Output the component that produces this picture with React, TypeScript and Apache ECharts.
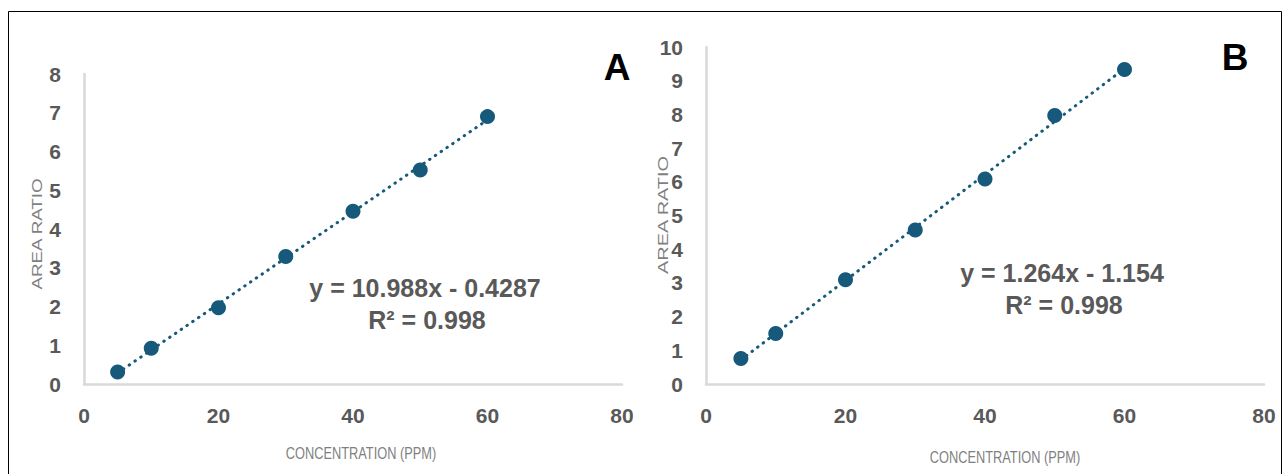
import React, { useEffect, useRef } from "react";
import * as echarts from "echarts";

const concentration = [5, 10, 20, 30, 40, 50, 60];
const areaRatioA = [0.31, 0.92, 1.97, 3.29, 4.46, 5.52, 6.9];
const areaRatioB = [0.76, 1.5, 3.09, 4.57, 6.08, 7.97, 9.33];
const xTicks = { min: 0, max: 80, interval: 20 };
const yTicksA = { min: 0, max: 8, interval: 1 };
const yTicksB = { min: 0, max: 10, interval: 1 };
const equationA = ["y = 10.988x - 0.4287", "R² = 0.998"];
const equationB = ["y = 1.264x - 1.154", "R² = 0.998"];
const panelLabels = ["A", "B"];
const xName = "CONCENTRATION (PPM)";
const yName = "AREA RATIO";

const MARK = "#17597a";
const AXIS_TXT = "#595959";
const FONT = "'Liberation Sans', Arial, sans-serif";

function fitLine(xs: number[], ys: number[]) {
  const n = xs.length;
  const mx = xs.reduce((a, b) => a + b, 0) / n;
  const my = ys.reduce((a, b) => a + b, 0) / n;
  let sxy = 0, sxx = 0;
  for (let i = 0; i < n; i++) {
    sxy += (xs[i] - mx) * (ys[i] - my);
    sxx += (xs[i] - mx) * (xs[i] - mx);
  }
  const slope = sxy / sxx;
  const icpt = my - slope * mx;
  const x0 = Math.min(...xs), x1 = Math.max(...xs);
  return [[x0, icpt + slope * x0], [x1, icpt + slope * x1]];
}

export default function App() {
  const ref = useRef<HTMLDivElement>(null);
  useEffect(() => {
    if (!ref.current) return;
    const chart = echarts.init(ref.current, null, { renderer: "svg" });
    const axisX = (gi: number) => ({
      type: "value",
      gridIndex: gi,
      ...xTicks,
      axisLine: { show: true, lineStyle: { color: "#d9d9d9", width: 2.5 } },
      axisTick: { show: false },
      splitLine: { show: false },
      axisLabel: { color: AXIS_TXT, fontSize: 21, fontWeight: "bold", fontFamily: FONT, margin: 21 },
    });
    const axisY = (gi: number, t: any) => ({
      type: "value",
      gridIndex: gi,
      ...t,
      axisLine: { show: true, lineStyle: { color: "#d9d9d9", width: 2.5 } },
      axisTick: { show: false },
      splitLine: { show: false },
      axisLabel: { color: AXIS_TXT, fontSize: 21, fontWeight: "bold", fontFamily: FONT, margin: 23 },
    });
    const scatter = (gi: number, ys: number[]) => ({
      type: "scatter",
      xAxisIndex: gi,
      yAxisIndex: gi,
      symbol: "circle",
      symbolSize: 15,
      itemStyle: { color: MARK, opacity: 1 },
      data: concentration.map((x, i) => [x, ys[i]]),
      z: 5,
    });
    const trend = (gi: number, ys: number[]) => ({
      type: "line",
      xAxisIndex: gi,
      yAxisIndex: gi,
      showSymbol: false,
      symbol: "none",
      lineStyle: { color: MARK, width: 3, type: [0.5, 6.5], cap: "round" },
      data: fitLine(concentration, ys),
      z: 2,
    });
    const eqText = (lines: string[], cx: number, cy1: number, cy2: number) => [
      {
        type: "text", x: cx, y: cy1,
        style: { text: lines[0], fill: AXIS_TXT, font: `bold 25px ${FONT}`, align: "center", verticalAlign: "middle" },
      },
      {
        type: "text", x: cx + 2, y: cy2,
        style: { text: lines[1], fill: AXIS_TXT, font: `bold 25px ${FONT}`, align: "center", verticalAlign: "middle" },
      },
    ];
    const xNameText = (cx: number, cy: number) => ({
      type: "text", x: cx, y: cy, scaleX: 0.8,
      style: { text: xName, fill: "#7f7f7f", font: `16px ${FONT}`, align: "center", verticalAlign: "middle" },
    });
    const yNameText = (cx: number, cy: number, sx: number) => ({
      type: "text", x: cx, y: cy, rotation: Math.PI / 2, scaleX: sx,
      style: { text: yName, fill: "#7f7f7f", font: `15px ${FONT}`, align: "center", verticalAlign: "middle" },
    });
    const option: any = {
      animation: false,
      backgroundColor: "#ffffff",
      grid: [
        { left: 84, top: 74, width: 538, height: 310, outerBoundsMode: "none" },
        { left: 706, top: 47, width: 558, height: 337, outerBoundsMode: "none" },
      ],
      xAxis: [axisX(0), axisX(1)],
      yAxis: [axisY(0, yTicksA), axisY(1, yTicksB)],
      series: [trend(0, areaRatioA), scatter(0, areaRatioA), trend(1, areaRatioB), scatter(1, areaRatioB)],
      graphic: [
        {
          type: "rect", shape: { x: 8.5, y: 11.5, width: 1273, height: 480 },
          style: { fill: "none", stroke: "#000", lineWidth: 1 }, silent: true,
        },
        ...eqText(equationA, 425, 288, 320),
        ...eqText(equationB, 1062, 273, 305),
        {
          type: "text", x: 617, y: 67,
          style: { text: panelLabels[0], fill: "#000", font: `bold 37px ${FONT}`, align: "center", verticalAlign: "middle" },
        },
        {
          type: "text", x: 1235, y: 57,
          style: { text: panelLabels[1], fill: "#000", font: `bold 37px ${FONT}`, align: "center", verticalAlign: "middle" },
        },
        xNameText(361, 453),
        xNameText(1005, 457),
        yNameText(37, 234, 1.25),
        yNameText(663, 215, 1.33),
      ],
    };
    chart.setOption(option);
    return () => chart.dispose();
  }, []);
  return (
    <div
      ref={ref}
      style={{ position: "absolute", left: 0, top: 0, width: 1285, height: 474 }}
    />
  );
}
